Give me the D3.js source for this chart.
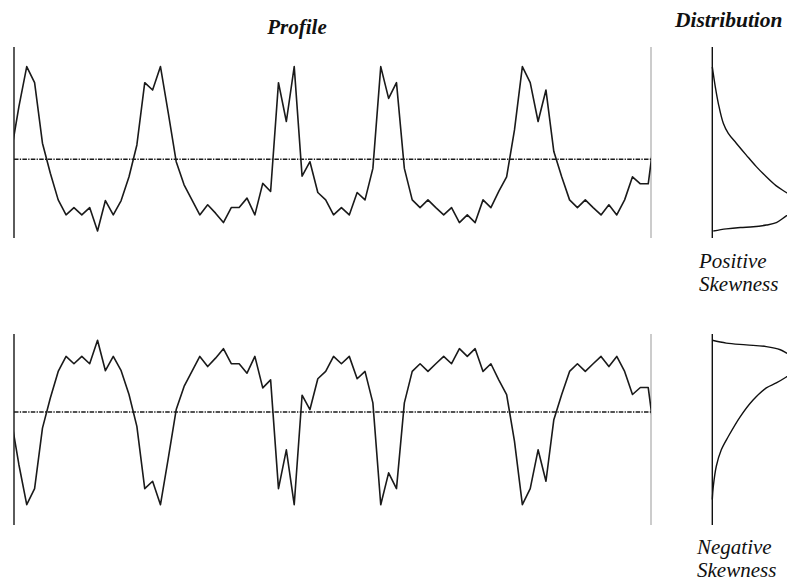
<!DOCTYPE html>
<html>
<head>
    <title>Profile and Distribution</title>
    <script src="https://d3js.org/d3.v7.min.js"></script>
    <style>
        body { margin: 0; background: #fff; }
        text { font-family: "Liberation Serif", "Times New Roman", serif; fill: #111; }
    </style>
</head>
<body>
    <script>
// profile values, one per sample (standardised units, 0 = mean line)
const profilePositive = [
    0.17, 1.50, 2.65, 2.19, 0.46, -0.40, -1.16, -1.59, -1.38, -1.59,
    -1.38, -2.05, -1.18, -1.59, -1.18, -0.50, 0.41, 2.19, 1.98, 2.65,
    1.31, -0.07, -0.73, -1.16, -1.59, -1.30, -1.54, -1.81, -1.38, -1.38,
    -1.11, -1.59, -0.69, -0.92, 2.19, 1.08, 2.65, -0.48, -0.07, -0.95,
    -1.16, -1.59, -1.38, -1.59, -0.95, -1.16, -0.26, 2.65, 1.74, 2.19,
    -0.26, -1.16, -1.38, -1.16, -1.38, -1.59, -1.38, -1.81, -1.59, -1.81,
    -1.16, -1.38, -0.92, -0.50, 0.84, 2.65, 2.19, 1.08, 1.98, 0.22,
    -0.50, -1.16, -1.38, -1.16, -1.38, -1.59, -1.30, -1.59, -1.16, -0.50,
    -0.70, -0.70, 1.03
];
const profileNegative = [
    -0.17, -1.50, -2.65, -2.19, -0.46, 0.40, 1.16, 1.59, 1.38, 1.59,
    1.38, 2.05, 1.18, 1.59, 1.18, 0.50, -0.41, -2.19, -1.98, -2.65,
    -1.31, 0.07, 0.73, 1.16, 1.59, 1.30, 1.54, 1.81, 1.38, 1.38,
    1.11, 1.59, 0.69, 0.92, -2.19, -1.08, -2.65, 0.48, 0.07, 0.95,
    1.16, 1.59, 1.38, 1.59, 0.95, 1.16, 0.26, -2.65, -1.74, -2.19,
    0.26, 1.16, 1.38, 1.16, 1.38, 1.59, 1.38, 1.81, 1.59, 1.81,
    1.16, 1.38, 0.92, 0.50, -0.84, -2.65, -2.19, -1.08, -1.98, -0.22,
    0.50, 1.16, 1.38, 1.16, 1.38, 1.59, 1.30, 1.59, 1.16, 0.50,
    0.70, 0.70, -1.03
];

// distribution curves: level (same units as the profile) and density
const distPositiveLevel   = [2.64, 2.07, 1.60, 1.03, 0.74, 0.46, 0.12, -0.21, -0.50, -0.76, -0.95, -1.30, -1.62, -1.81, -1.88, -1.93, -1.95, -1.99, -2.05];
const distPositiveDensity = [0.00, 0.03, 0.06, 0.11, 0.16, 0.24, 0.34, 0.44, 0.54, 0.64, 0.74, 0.92, 0.74, 0.64, 0.54, 0.41, 0.28, 0.14, 0.01];
const distNegativeLevel   = [2.05, 1.97, 1.92, 1.87, 1.78, 1.69, 1.35, 1.00, 0.83, 0.69, 0.35, -0.13, -0.70, -1.08, -1.55, -2.13, -2.50];
const distNegativeDensity = [0.00, 0.14, 0.34, 0.54, 0.68, 0.74, 0.92, 0.74, 0.64, 0.54, 0.41, 0.28, 0.16, 0.09, 0.04, 0.01, 0.00];

const titles = ["Profile", "Distribution"];
const skewLabels = [["Positive", "Skewness"], ["Negative", "Skewness"]];

const W = 787, H = 585;
const svg = d3.select("body").append("svg")
    .attr("width", W)
    .attr("height", H);

// sample index -> x; the profile runs slightly past both frame lines and is clipped
const x = d3.scaleLinear()
    .domain([0, profilePositive.length - 1])
    .range([11, 656.1]);
const frameLeft = 14, frameRight = 651;

const dx = d3.scaleLinear().domain([0, 1]).range([712.3, 812.3]);

svg.append("defs").append("clipPath")
    .attr("id", "plotclip")
    .append("rect")
    .attr("x", frameLeft).attr("y", 0)
    .attr("width", frameRight - frameLeft).attr("height", H);

function drawPanel(values, level, density, yDomain, yRange, labels, labelX, labelY) {
    const y = d3.scaleLinear().domain(yDomain).range(yRange);
    const g = svg.append("g");

    // left frame line
    g.append("line")
        .attr("x1", frameLeft).attr("x2", frameLeft)
        .attr("y1", y(yDomain[0])).attr("y2", y(yDomain[1]))
        .attr("stroke", "#333").attr("stroke-width", 1.6);
    // right frame line (lighter)
    g.append("line")
        .attr("x1", frameRight).attr("x2", frameRight)
        .attr("y1", y(yDomain[0])).attr("y2", y(yDomain[1]))
        .attr("stroke", "#aaa").attr("stroke-width", 1.2);

    // mean line, dash-dot
    g.append("line")
        .attr("x1", frameLeft).attr("x2", frameRight)
        .attr("y1", y(0)).attr("y2", y(0))
        .attr("stroke", "#1a1a1a").attr("stroke-width", 1.5)
        .attr("stroke-dasharray", "4.5,1.3,1.3,1.3");

    const line = d3.line()
        .x((d, i) => x(i))
        .y(d => y(d));
    g.append("path")
        .datum(values)
        .attr("clip-path", "url(#plotclip)")
        .attr("d", line)
        .attr("fill", "none")
        .attr("stroke", "#1a1a1a")
        .attr("stroke-width", 1.6)
        .attr("stroke-linejoin", "round");

    // distribution: vertical base line + density curve
    g.append("line")
        .attr("x1", dx(0)).attr("x2", dx(0))
        .attr("y1", y(yDomain[0])).attr("y2", y(yDomain[1]))
        .attr("stroke", "#111").attr("stroke-width", 1.4);

    const dens = level.map((l, i) => [density[i], l]);
    g.append("path")
        .datum(dens)
        .attr("d", d3.line()
            .x(d => dx(d[0]))
            .y(d => y(d[1]))
            .curve(d3.curveCatmullRom.alpha(0.5)))
        .attr("fill", "none")
        .attr("stroke", "#111")
        .attr("stroke-width", 1.4);

    const t = svg.append("text")
        .attr("x", labelX)
        .attr("y", labelY)
        .style("font-style", "italic")
        .style("font-size", "21px");
    labels.forEach((s, i) => {
        t.append("tspan")
            .attr("x", labelX)
            .attr("dy", i === 0 ? 0 : 23)
            .text(s);
    });
}

drawPanel(profilePositive, distPositiveLevel, distPositiveDensity,
    [-2.25, 3.21], [238, 47], skewLabels[0], 699, 268);
drawPanel(profileNegative, distNegativeLevel, distNegativeDensity,
    [-3.23, 2.23], [525, 334], skewLabels[1], 697, 554);

svg.append("text")
    .attr("x", 297).attr("y", 34)
    .attr("text-anchor", "middle")
    .style("font-style", "italic").style("font-weight", "bold")
    .style("font-size", "21px")
    .text(titles[0]);
svg.append("text")
    .attr("x", 675).attr("y", 27)
    .style("font-style", "italic").style("font-weight", "bold")
    .style("font-size", "21.5px")
    .text(titles[1]);
    </script>
</body>
</html>
